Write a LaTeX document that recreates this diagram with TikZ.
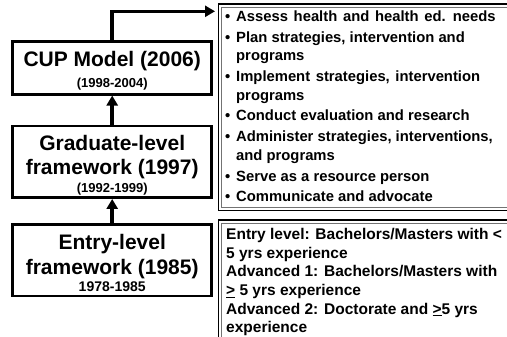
\documentclass[tikz,border=0pt]{standalone}
\usepackage{fontspec}
\setmainfont{Liberation Sans}
\usetikzlibrary{arrows.meta}
\tikzset{
  lbox/.style={draw=black, line width=2.5pt, minimum width=199pt, inner sep=0pt},
  big/.style={font=\bfseries\fontsize{21}{24}\selectfont, inner sep=0pt, anchor=base},
  small/.style={font=\bfseries\fontsize{13}{15}\selectfont, inner sep=0pt, anchor=base},
  conn/.style={line width=3.5pt, -{Triangle[length=10pt,width=11pt]}},
  outerb/.style={draw=black, line width=1.5pt},
  innerb/.style={draw=black!55, line width=0.8pt},
}
\begin{document}
\begin{tikzpicture}[x=1pt,y=-1pt]
\useasboundingbox (0,0) rectangle (507,337);
\clip (0,0) rectangle (507,337);
% left boxes
\node[lbox, minimum height=52.6pt] (cup) at (112.2,68) {};
\node[lbox, minimum height=71.7pt] (grad) at (112.2,161.85) {};
\node[lbox, minimum height=71.7pt] (entry) at (112.2,260.15) {};
\node[big] (cupt) at (112.2,66.8) {CUP Model (2006)};
\node[small] (cupy) at (112.2,87.5) {(1998-2004)};
\node[big] (gradt1) at (112.2,151) {Graduate-level};
\node[big] (gradt2) at (112.2,174.4) {framework (1997)};
\node[small] (grady) at (112.2,193) {(1992-1999)};
\node[big] (entt1) at (112.2,249.4) {Entry-level};
\node[big] (entt2) at (112.2,274.4) {framework (1985)};
\node[small, font=\bfseries\fontsize{14}{15}\selectfont] (enty) at (112.2,291.6) {1978-1985};
% right boxes
\draw[outerb] (218.3,4) rectangle (520,210.7);
\draw[innerb] (221.3,7) rectangle (520,207.7);
\draw[outerb] (218.3,220) rectangle (520,350);
\draw[innerb] (221.3,223) rectangle (520,350);
\coordinate (rb1) at (215,11.3);
% connectors
\draw[conn] (grad.north) -- (cup.south);
\draw[conn] (entry.north) -- (grad.south);
\draw[conn] (cup.north) |- (rb1);
% right texts
\node[anchor=base west, inner sep=0pt, font=\bfseries\fontsize{14.8}{18.3}\selectfont] (list1) at (225,21.7) {%
\begin{minipage}[t]{400pt}\raggedright\parskip=2.6pt
\def\itm#1{\par\hangindent=11pt\hangafter=1\noindent\makebox[11pt][l]{\textbullet}#1}
\itm{Assess\hspace{1.6pt} health\hspace{1.6pt} and\hspace{1.6pt} health\hspace{1.6pt} ed.\hspace{1.6pt} needs}
\itm{Plan strategies, intervention and\newline programs}
\itm{Implement\hspace{1.5pt} strategies,\hspace{1.5pt} intervention\newline programs}
\itm{Conduct evaluation and research}
\itm{Administer strategies, interventions,\newline and programs}
\itm{Serve as a resource person}
\itm{Communicate and advocate}
\end{minipage}};
\node[anchor=base west, inner sep=0pt, font=\bfseries\fontsize{15.5}{18.7}\selectfont] (list2) at (226,239.5) {%
\begin{minipage}[t]{400pt}\raggedright
Entry level: Bachelors/Masters with <\\
5 yrs experience\\
Advanced 1: Bachelors/Masters with\\
\underline{>} 5 yrs experience\\
Advanced 2: Doctorate and \underline{>}5 yrs\\
experience
\end{minipage}};
\end{tikzpicture}
\end{document}
